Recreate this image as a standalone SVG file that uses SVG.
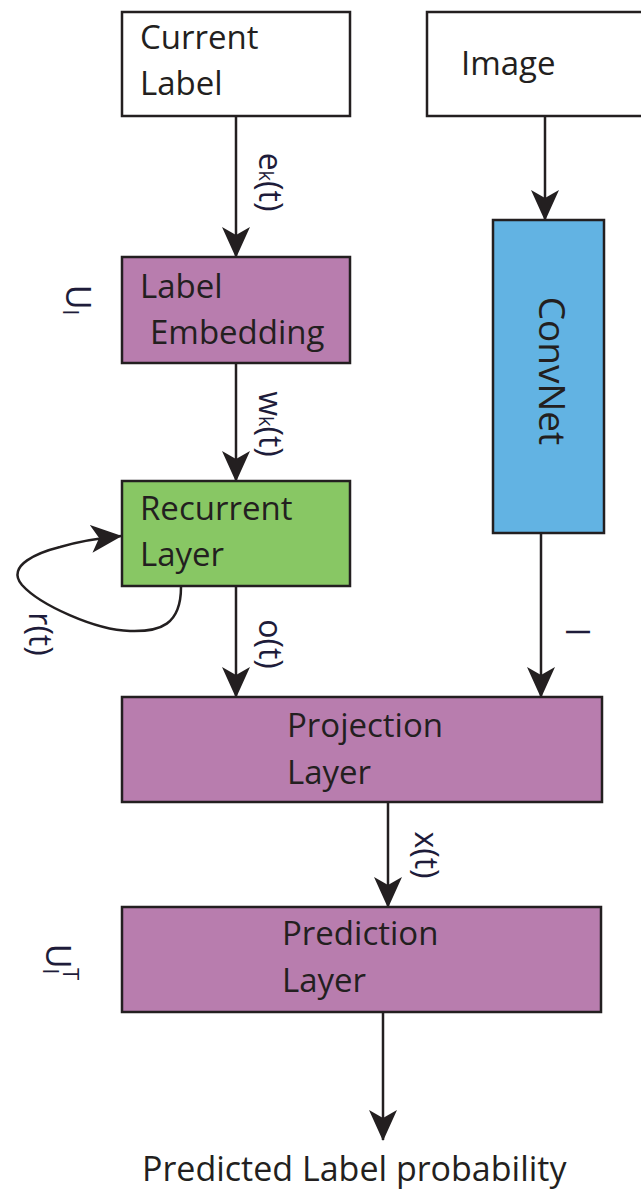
<svg xmlns="http://www.w3.org/2000/svg" width="641" height="1195" viewBox="0 0 641 1195">
<defs>
<style>
.box{stroke:#231F20;stroke-width:2.5}
.t{font-family:"Open Sans","Noto Sans",sans-serif;font-size:33px;fill:#231F20}
.lbl{font-family:"Open Sans","Noto Sans",sans-serif;font-size:32px;fill:#1E1C3A}
.edge{fill:none;stroke:#231F20;stroke-width:2.5}
</style>
<marker id="ahr" markerUnits="userSpaceOnUse" markerWidth="32" markerHeight="30" viewBox="0 0 32 30" refX="30" refY="15" orient="auto">
<path d="M0,1 L8,15 L0,29 L31,15 Z" fill="#231F20"/>
</marker>
</defs>
<rect width="641" height="1195" fill="#fff"/>
<g id="connectors">
<line class="edge" x1="236" y1="116" x2="236" y2="257" marker-end="url(#ahr)"/>
<line class="edge" x1="545" y1="116" x2="545" y2="220" marker-end="url(#ahr)"/>
<line class="edge" x1="236" y1="363" x2="236" y2="481" marker-end="url(#ahr)"/>
<line class="edge" x1="236" y1="586" x2="236" y2="697" marker-end="url(#ahr)"/>
<line class="edge" x1="541" y1="533" x2="541" y2="697" marker-end="url(#ahr)"/>
<line class="edge" x1="388" y1="802" x2="388" y2="907" marker-end="url(#ahr)"/>
<line class="edge" x1="383" y1="1012" x2="383" y2="1140" marker-end="url(#ahr)"/>
<path class="edge" d="M181,587 C181,625 160,632 130,631 C95,630 40,605 22,585 C5,565 40,552 60,547 C80,541 100,538 121,536" marker-end="url(#ahr)"/>
<text class="lbl" transform="translate(259,182) rotate(90)" text-anchor="middle">e<tspan style="font-size:20px">k</tspan>(t)</text>
<text class="lbl" transform="translate(259,424) rotate(90)" text-anchor="middle">w<tspan style="font-size:20px">k</tspan>(t)</text>
<text class="lbl" transform="translate(259,644) rotate(90)" text-anchor="middle">o(t)</text>
<text class="lbl" transform="translate(29,634) rotate(90)" text-anchor="middle">r(t)</text>
<text class="lbl" transform="translate(566,632) rotate(90)" text-anchor="middle">I</text>
<text class="lbl" transform="translate(415,855) rotate(90)" text-anchor="middle">x(t)</text>
</g>
<g id="current-label">
<rect class="box" x="122" y="12" width="228" height="104" fill="#fff"/>
<text class="t" x="140" y="49">Current</text>
<text class="t" x="140" y="95">Label</text>
</g>
<g id="image">
<rect class="box" x="427" y="12" width="216" height="104" fill="#fff"/>
<text class="t" x="461" y="75">Image</text>
</g>
<g id="convnet">
<rect class="box" x="493" y="220" width="111" height="313" fill="#62B3E3"/>
<text class="t" transform="translate(539,371) rotate(90)" text-anchor="middle" style="font-size:37px">ConvNet</text>
</g>
<g id="label-embedding">
<rect class="box" x="122" y="257" width="228" height="106" fill="#B87DAE"/>
<text class="t" x="140" y="298">Label</text>
<text class="t" x="150" y="344">Embedding</text>
<text class="lbl" transform="translate(66,300) rotate(90)" text-anchor="middle" style="font-size:34px">U<tspan style="font-size:22px" dy="3">l</tspan></text>
</g>
<g id="recurrent-layer">
<rect class="box" x="122" y="481" width="228" height="105" fill="#88C764"/>
<text class="t" x="140" y="520">Recurrent</text>
<text class="t" x="140" y="566">Layer</text>
</g>
<g id="projection-layer">
<rect class="box" x="122" y="697" width="480" height="105" fill="#B87DAE"/>
<text class="t" x="287" y="737">Projection</text>
<text class="t" x="287" y="784">Layer</text>
</g>
<g id="prediction-layer">
<rect class="box" x="122" y="907" width="479" height="105" fill="#B87DAE"/>
<text class="t" x="282" y="945">Prediction</text>
<text class="t" x="282" y="992">Layer</text>
<text class="lbl" transform="translate(46,962) rotate(90)" text-anchor="middle" style="font-size:34px">U<tspan style="font-size:22px" dy="3">l</tspan><tspan style="font-size:22px" dx="-6" dy="-20">T</tspan></text>
</g>
<g id="output">
<text class="t" x="142" y="1181" style="font-size:34px">Predicted Label probability</text>
</g>
</svg>
